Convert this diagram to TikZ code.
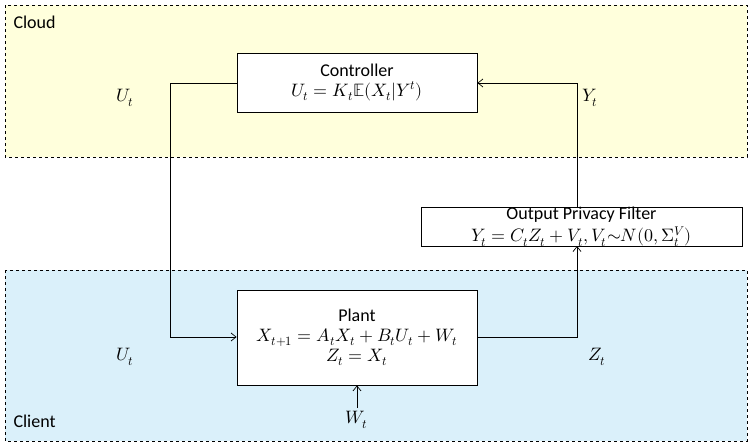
\documentclass[tikz,border=0pt]{standalone}
\usepackage{unicode-math}
\setmainfont{Carlito}
\setmathfont{Latin Modern Math}
\usetikzlibrary{arrows.meta}
\definecolor{cloudc}{RGB}{255,255,220}
\definecolor{clientc}{RGB}{218,240,250}
\begin{document}
\begin{tikzpicture}[x=1pt,y=-1pt,font=\fontsize{18}{21}\selectfont,
  region/.style={draw=black,dashed,line width=0.7pt},
  blk/.style={draw=black,fill=white,line width=0.8pt,align=center,inner sep=0pt},
  conn/.style={line width=0.7pt,-{Straight Barb[length=5pt,width=8pt]}}]
\useasboundingbox (0,0) rectangle (748,445);
\fill[cloudc] (5,5) rectangle (747,157);
\draw[region] (5,5) rectangle (747,157);
\fill[clientc] (5,270) rectangle (747,441);
\draw[region] (5,270) rectangle (747,441);
\node[anchor=west] (cloud) at (10,22) {Cloud};
\node[anchor=west] (client) at (10,421) {Client};
\node[blk,minimum width=240pt,minimum height=59pt] (ctrl) at (357,82.5) {Controller\\[-1pt] $U_t=K_t\mathbb{E}(X_t|Y^t)$};
\node[blk,minimum width=321pt,minimum height=38pt] (filt) at (581.5,227) {Output Privacy Filter\\[1pt] $Y_t=C_tZ_t+V_t, V_t{\sim}N(0,\Sigma_t^V)$};
\node[blk,minimum width=240pt,minimum height=95pt] (plant) at (357,337.5) {Plant\\[-1pt] $X_{t+1}=A_tX_t+B_tU_t+W_t$\\[-1pt] $Z_t=X_t$};
\node (w) at (357,420) {$W_t$};
\node (u1) at (125,98) {$U_t$};
\node (y1) at (590,98) {$Y_t$};
\node (u2) at (125,357) {$U_t$};
\node (z2) at (597,357) {$Z_t$};
\coordinate (a) at (170,83);
\coordinate (b) at (170,337);
\draw[conn] (ctrl.west |- a) -- (a) -- (b) -- (plant.west |- b);
\draw[conn] (plant.east |- b) -- (577,337) -- (577,246);
\draw[conn] (577,208) -- (577,83) -- (ctrl.east |- a);
\draw[conn] (w.north) -- (plant.south);
\end{tikzpicture}
\end{document}
